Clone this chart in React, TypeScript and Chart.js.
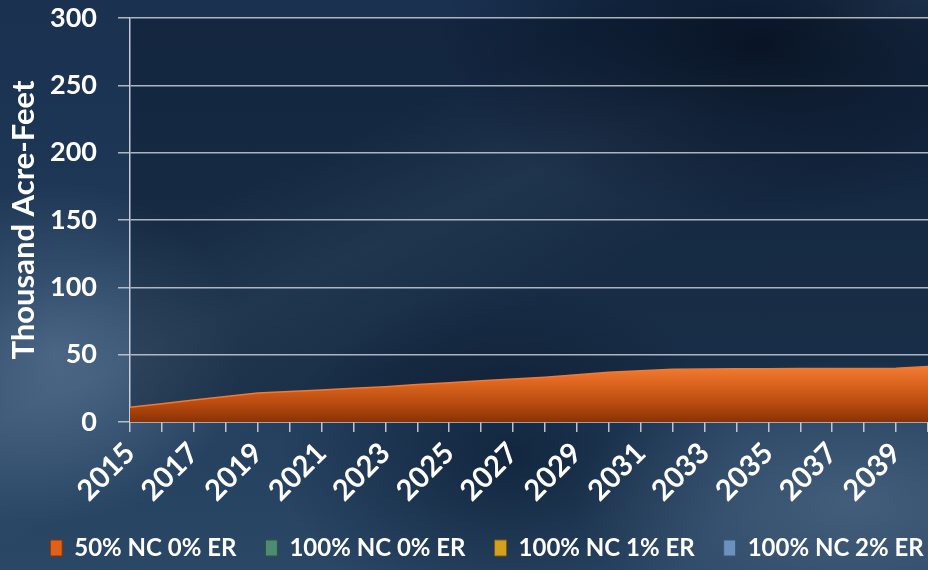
import React, { useEffect, useRef } from 'react';
import { Chart, registerables } from 'chart.js';
Chart.register(...registerables);

const years = ['2015','2016','2017','2018','2019','2020','2021','2022','2023','2024','2025','2026','2027','2028','2029','2030','2031','2032','2033','2034','2035','2036','2037','2038','2039','2040'];
const nc50er0 = [11, 13.6, 16.3, 19, 21.6, 22.7, 23.8, 25, 26.2, 27.8, 29.2, 30.6, 32, 33.3, 35.1, 37, 38.1, 39.1, 39.3, 39.5, 39.6, 39.7, 39.8, 39.8, 40, 41.3];
const nc100er0: number[] = [];
const nc100er1: number[] = [];
const nc100er2: number[] = [];
const seriesNames = ['50% NC 0% ER', '100% NC 0% ER', '100% NC 1% ER', '100% NC 2% ER'];
const yMin = 0;
const yMax = 300;
const yStep = 50;
const yTitle = 'Thousand Acre-Feet';

const legendFill = ['#e0621a', '#4f8a72', '#d4a020', '#6a92bc'];
const legendStroke = ['#8a3004', '#2c5444', '#7a5a10', '#3a5878'];
const FONT = 'Lato, "Open Sans", sans-serif';
const LEGEND_PAD = 29;
const LEGEND_CENTER = 487;

export default function App() {
  const ref = useRef<HTMLCanvasElement>(null);
  useEffect(() => {
    if (!ref.current) return;
    const helper = {
      id: 'helper',
      afterInit(chart: any) {
        const lg = chart.legend;
        if (lg && !lg.__wide) {
          lg.__wide = true;
          const orig = lg.update.bind(lg);
          lg.update = (w: number, h: number, m: any) => orig(w + 200, h, m);
        }
      },
      afterLayout(chart: any) {
        const lg = chart.legend;
        if (lg && lg.lineWidths) {
          const L = lg.lineWidths[0];
          const x0 = LEGEND_CENTER - (L - LEGEND_PAD) / 2;
          const left = -300;
          const right = 2 * x0 - LEGEND_PAD + L - left;
          lg.left = left;
          lg.right = right;
          lg.width = right - left;
        }
      },
      beforeDraw(chart: any) {
        const { ctx, chartArea: a } = chart;
        ctx.save();
        ctx.fillStyle = 'rgba(5,15,30,0.33)';
        ctx.fillRect(a.left, a.top, a.right - a.left, a.bottom - a.top);
        ctx.restore();
      },
    };
    const chart = new Chart(ref.current, {
      type: 'line',
      data: {
        labels: years,
        datasets: [
          {
            label: seriesNames[0],
            data: nc50er0,
            fill: 'origin',
            borderColor: '#ef7a34',
            borderWidth: 1.5,
            pointRadius: 0,
            tension: 0,
            backgroundColor: (c: any) => {
              const ch = c.chart;
              const y = ch.scales && ch.scales.y;
              if (!y || !ch.chartArea) return legendFill[0];
              const top = y.getPixelForValue(42);
              const bot = y.getPixelForValue(0);
              const g = ch.ctx.createLinearGradient(0, top, 0, bot);
              g.addColorStop(0, '#f47e36');
              g.addColorStop(0.3, '#de6620');
              g.addColorStop(0.7, '#b5490e');
              g.addColorStop(1, '#8a3206');
              return g;
            },
          },
          { label: seriesNames[1], data: nc100er0, backgroundColor: legendFill[1], borderColor: legendStroke[1], pointRadius: 0 },
          { label: seriesNames[2], data: nc100er1, backgroundColor: legendFill[2], borderColor: legendStroke[2], pointRadius: 0 },
          { label: seriesNames[3], data: nc100er2, backgroundColor: legendFill[3], borderColor: legendStroke[3], pointRadius: 0 },
        ],
      },
      options: {
        animation: false,
        responsive: false,
        devicePixelRatio: 1,
        layout: { padding: { left: 0, right: 0, top: 18, bottom: 0 } },
        plugins: {
          tooltip: { enabled: false },
          legend: {
            position: 'bottom',
            align: 'center',
            labels: {
              color: '#ffffff',
              boxWidth: 12,
              boxHeight: 16,
              padding: LEGEND_PAD,
              font: { family: FONT, size: 24, weight: 'bold' },
              generateLabels: () =>
                seriesNames.map((n, i) => ({
                  text: n,
                  fillStyle: legendFill[i],
                  strokeStyle: legendStroke[i],
                  lineWidth: 1,
                  hidden: false,
                  datasetIndex: i,
                  fontColor: '#ffffff',
                })),
            },
          },
        },
        scales: {
          x: {
            afterFit: (s: any) => { s.height = 85; s.paddingLeft = 0; s.paddingRight = 0; },
            grid: { display: true, drawOnChartArea: false, drawTicks: true, tickLength: 10, color: 'rgba(215,220,226,0.85)', lineWidth: 1.5 },
            border: { display: true, color: 'rgba(215,220,226,0.9)', width: 1.5 },
            ticks: {
              autoSkip: false,
              maxRotation: 45,
              minRotation: 45,
              padding: 4,
              color: '#ffffff',
              font: { family: FONT, size: 29, weight: 'bold' },
              callback: (_v: any, i: number) => (i % 2 === 0 ? years[i] : ''),
            },
          },
          y: {
            min: yMin,
            max: yMax,
            afterFit: (s: any) => { s.width = 130; s.paddingTop = 0; s.paddingBottom = 0; },
            grid: { color: 'rgba(210,215,222,0.8)', lineWidth: 1.5, tickLength: 12 },
            border: { display: true, color: 'rgba(215,220,226,0.9)', width: 1.5 },
            ticks: {
              stepSize: yStep,
              padding: 21,
              color: '#ffffff',
              font: { family: FONT, size: 27, weight: 'bold' },
            },
            title: {
              display: true,
              text: yTitle,
              color: '#ffffff',
              font: { family: FONT, size: 31, weight: 'bold' },
              padding: { top: 5, bottom: 0 },
            },
          },
        },
      },
      plugins: [helper],
    } as any);
    return () => chart.destroy();
  }, []);

  return (
    <div
      style={{
        position: 'absolute',
        left: 0,
        top: 0,
        width: 928,
        height: 570,
        overflow: 'hidden',
        background: [
          'radial-gradient(ellipse 20% 30% at 6% 62%, rgba(110,140,170,0.45), rgba(110,140,170,0) 100%)',
          'radial-gradient(ellipse 30% 25% at 92% 88%, rgba(100,125,150,0.45), rgba(100,125,150,0) 100%)',
          'radial-gradient(ellipse 35% 30% at 82% 8%, rgba(0,10,25,0.75), rgba(0,10,25,0) 100%)',
          'radial-gradient(ellipse 25% 30% at 55% 80%, rgba(5,20,40,0.6), rgba(5,20,40,0) 100%)',
          'linear-gradient(155deg, rgba(120,150,180,0) 30%, rgba(120,150,180,0.16) 42%, rgba(120,150,180,0) 55%)',
          'linear-gradient(180deg, #1a3150 0%, #203a58 50%, #2a4766 100%)',
        ].join(','),
      }}
    >
      <canvas ref={ref} width={928} height={570} style={{ display: 'block' }} />
    </div>
  );
}
